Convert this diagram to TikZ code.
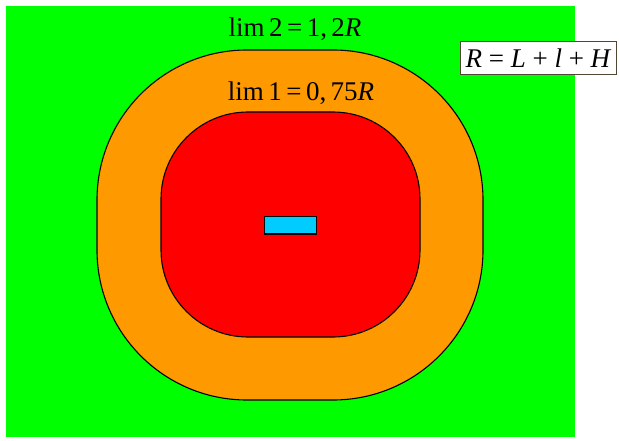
\documentclass[tikz,border=0pt]{standalone}
\usepackage{fontspec}
\setmainfont{Liberation Serif}
\definecolor{bggreen}{RGB}{0,255,0}
\definecolor{zoneorange}{RGB}{255,153,0}
\definecolor{zonered}{RGB}{255,0,0}
\definecolor{objblue}{RGB}{0,204,255}
\definecolor{boxedge}{RGB}{80,70,50}
\newcommand{\opgap}{\hspace{0.25em}}
\tikzset{
  zone/.style={draw=black, line width=1.1pt},
  lbl/.style={font=\fontsize{27}{32}\selectfont, inner sep=0pt, anchor=base},
}
\begin{document}
\begin{tikzpicture}[x=1pt,y=-1pt]
\useasboundingbox (0,0) rectangle (619,441);
\fill[bggreen] (6,6) rectangle (575,437);
\filldraw[zone, fill=zoneorange, rounded corners=150pt] (97,50) rectangle (483,400);
\filldraw[zone, fill=zonered, rounded corners=87pt] (161,112) rectangle (420,337);
\filldraw[draw=black, line width=1.8pt, fill=objblue] (264.5,216.5) rectangle (316.5,234);
\node[lbl] (lim2) at (295,37) {lim\,2\,=\,1,\,2\textit{R}};
\node[lbl] (lim1) at (301,101) {lim\,1\,=\,0,\,75\textit{R}};
\node[draw=boxedge, line width=1pt, fill=white, minimum width=156pt, minimum height=33pt, inner sep=0pt] (formula) at (538.5,58.5) {};
\node[lbl] (rtext) at (538.5,68) {\textit{R}\opgap=\opgap\textit{L}\opgap+\opgap\textit{l}\opgap+\opgap\textit{H}};
\end{tikzpicture}
\end{document}
